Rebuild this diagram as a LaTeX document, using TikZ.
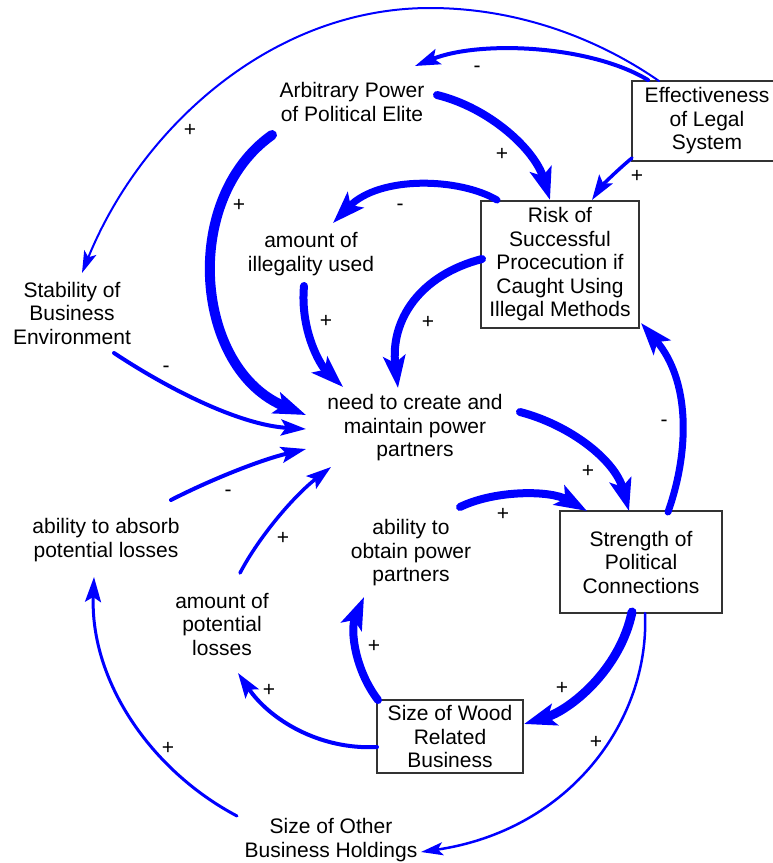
\documentclass[tikz,border=0pt]{standalone}
\usepackage{fontspec}
\setmainfont{Liberation Sans}
\usetikzlibrary{arrows.meta,calc}
\tikzset{
  var/.style={align=center, inner sep=0pt, font={\fontsize{21}{23.5}\selectfont}},
  boxvar/.style={var, draw=black!80, line width=1.3pt},
  lnk/.style={draw=blue, line cap=round},
  bigarr/.style={lnk, -{Stealth[length=32pt,width=22pt,inset=7pt]}},
  midarr/.style={lnk, -{Stealth[length=25pt,width=16pt,inset=5pt]}},
  smallarr/.style={lnk, -{Stealth[length=22pt,width=13pt,inset=5pt]}},
  pol/.style={font={\fontsize{21}{23}\selectfont}, inner sep=0pt}
}
\begin{document}
\begin{tikzpicture}[x=1pt,y=-1pt]
\fill[white] (0,0) rectangle (772,863);
\useasboundingbox (0,0) rectangle (772,863);

% nodes
\node[var] (arb) at (352,102) {Arbitrary Power\\of Political Elite};
\node[boxvar, minimum width=150pt, minimum height=80pt] (eff) at (707,121) {Effectiveness\\of Legal\\System};
\node[boxvar, minimum width=158pt, minimum height=127pt] (risk) at (560,264.5) {Risk of\\Successful\\Procecution if\\Caught Using\\Illegal Methods};
\node[var] (ill) at (311,254) {amount of\\illegality used};
\node[var] (stab) at (72,313) {Stability of\\Business\\Environment};
\node[var] (need) at (415,428) {need to create and\\maintain power\\partners};
\node[var] (abs) at (106,540) {ability to absorb\\potential losses};
\node[var] (obt) at (411,553) {ability to\\obtain power\\partners};
\node[boxvar, minimum width=162pt, minimum height=102pt] (str) at (641,562) {Strength of\\Political\\Connections};
\node[var] (pot) at (222,624) {amount of\\potential\\losses};
\node[boxvar, minimum width=146pt, minimum height=73pt] (wood) at (450,736.5) {Size of Wood\\Related\\Business};
\node[var] (oth) at (331,840) {Size of Other\\Business Holdings};

% 1 Effectiveness -> Stability (+)
\draw[smallarr, line width=2pt] ($(eff)+(-48,-40)$) .. controls (600,40) and (520,8) .. (430,8)
  .. controls (270,8) and (140,130) .. ($(stab)+(10,-40)$);
\node[pol] (l1) at (190,130) {+};
% 2 Effectiveness -> Arbitrary (-)
\draw[midarr, line width=4pt] ($(eff)+(-59,-41)$) .. controls (590,45) and (480,40) .. ($(arb)+(63,-36)$);
\node[pol] (l2) at (477,69) {-};
% 3 Effectiveness -> Risk (+)
\draw[midarr, line width=3.5pt] ($(eff)+(-75,37)$) .. controls (615,172) and (600,188) .. ($(risk)+(32,-64.5)$);
\node[pol] (l3) at (637,176) {+};
% 4 Arbitrary -> Risk (+)
\draw[bigarr, line width=8pt] ($(arb)+(85,-7)$) .. controls (490,108) and (535,150) .. ($(risk)+(-10,-64.5)$);
\node[pol] (l4) at (502,154) {+};
% 5 Risk -> illegality (-)
\draw[bigarr, line width=7pt] ($(risk)+(-63,-64.5)$) .. controls (460,178) and (380,175) .. ($(ill)+(22,-31)$);
\node[pol] (l5) at (400,207) {-};
% 6 Arbitrary -> need (+)
\draw[bigarr, line width=10pt] ($(arb)+(-80,33)$) .. controls (180,200) and (195,370) .. ($(need)+(-109,-13)$);
\node[pol] (l6) at (239,205) {+};
% 7 illegality -> need (+)
\draw[bigarr, line width=8pt] ($(ill)+(-7,32)$) .. controls (300,330) and (320,365) .. ($(need)+(-72,-41)$);
\node[pol] (l7) at (326,321) {+};
% 8 Risk -> need (+)
\draw[bigarr, line width=8pt] ($(risk)+(-78,-5.5)$) .. controls (420,275) and (390,320) .. ($(need)+(-17,-40)$);
\node[pol] (l8) at (428,322) {+};
% 9 Stability -> need (-)
\draw[midarr, line width=4pt] ($(stab)+(42,40)$) .. controls (170,390) and (240,425) .. ($(need)+(-109,1)$);
\node[pol] (l9) at (166,369) {-};
% 10 absorb -> need (-)
\draw[midarr, line width=4pt] ($(abs)+(65,-40)$) .. controls (210,480) and (260,460) .. ($(need)+(-109,21)$);
\node[pol] (l10) at (228,493) {-};
% 11 potential losses -> need (+)
\draw[midarr, line width=3.5pt] ($(pot)+(18,-51)$) .. controls (260,535) and (295,495) .. ($(need)+(-84,39)$);
\node[pol] (l11) at (283,538) {+};
% 12 need -> Strength (+)
\draw[bigarr, line width=8pt] ($(need)+(105,-16)$) .. controls (570,425) and (615,460) .. ($(str)+(-12,-51)$);
\node[pol] (l12) at (588,471) {+};
% 13 obtain -> Strength (+)
\draw[bigarr, line width=8pt] ($(obt)+(49,-46)$) .. controls (495,490) and (550,490) .. ($(str)+(-54,-51)$);
\node[pol] (l13) at (503,514) {+};
% 14 Strength -> Risk (-)
\draw[bigarr, line width=7pt] ($(str)+(27,-50)$) .. controls (690,450) and (690,380) .. ($(risk)+(81,58.5)$);
\node[pol] (l14) at (664,423) {-};
% 15 Strength -> Wood (+)
\draw[bigarr, line width=9pt] ($(str)+(-9,50)$) .. controls (620,670) and (570,710) .. ($(wood)+(74,-12.5)$);
\node[pol] (l15) at (562,688) {+};
% 16 Strength -> Other (+)
\draw[smallarr, line width=2.5pt] ($(str)+(4,51)$) .. controls (650,720) and (570,830) .. ($(oth)+(90,12)$);
\node[pol] (l16) at (596,742) {+};
% 17 Wood -> obtain (+)
\draw[bigarr, line width=8pt] ($(wood)+(-72,-36.5)$) .. controls (355,670) and (350,630) .. ($(obt)+(-47,44)$);
\node[pol] (l17) at (374,646) {+};
% 18 Wood -> potential losses (+)
\draw[midarr, line width=4pt] ($(wood)+(-73,10.5)$) .. controls (320,750) and (270,720) .. ($(pot)+(16,49)$);
\node[pol] (l18) at (269,690) {+};
% 19 Other -> absorb (+)
\draw[midarr, line width=3pt] ($(oth)+(-94,-24)$) .. controls (150,770) and (90,680) .. ($(abs)+(-12,37)$);
\node[pol] (l19) at (168,748) {+};
\end{tikzpicture}
\end{document}
